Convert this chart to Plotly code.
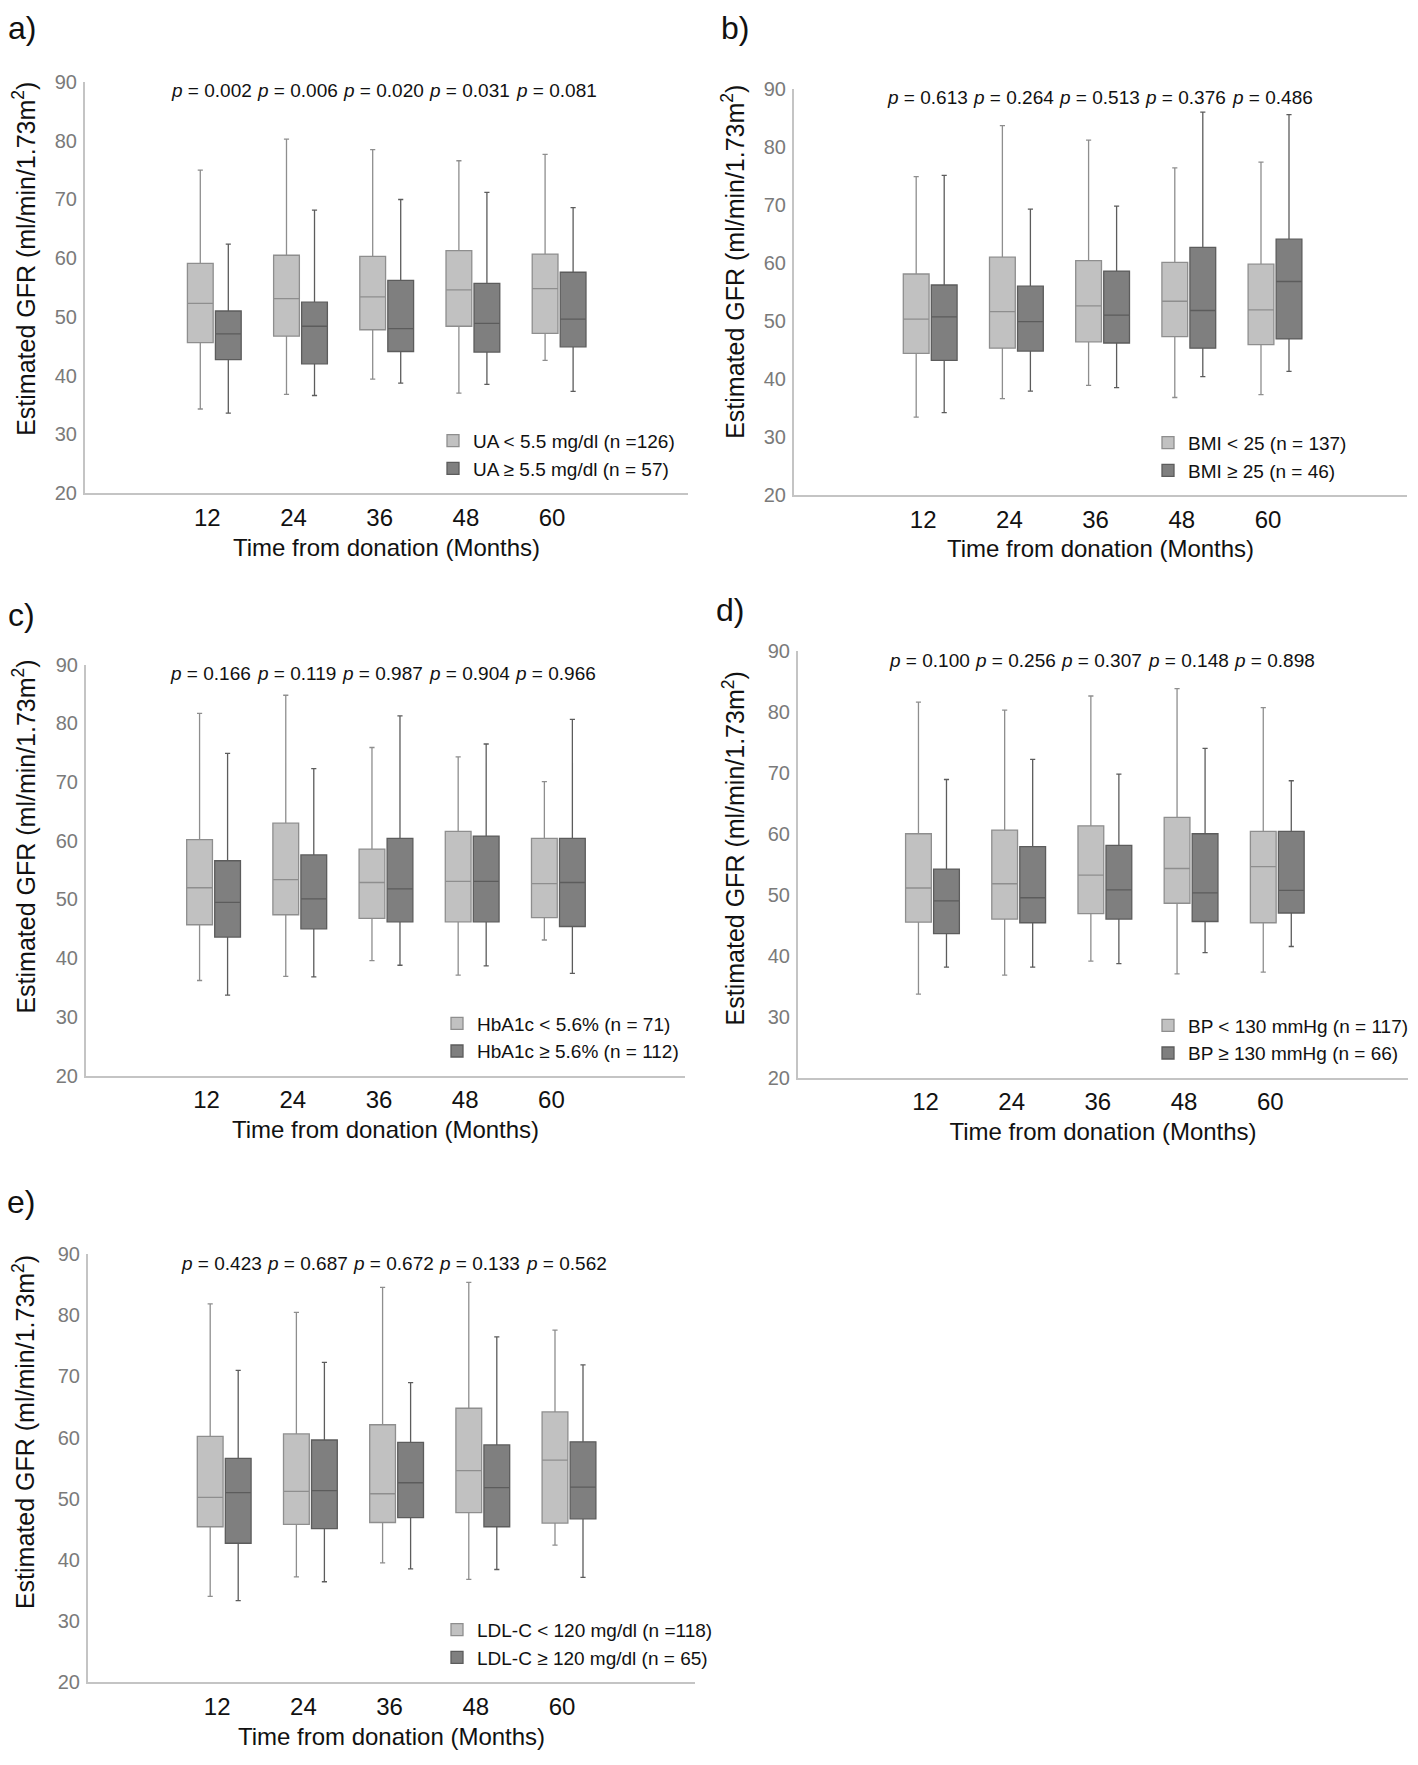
import plotly.graph_objects as go

# ---------------- data ----------------
months = ["12", "24", "36", "48", "60"]

# each tuple: (lower whisker, Q1, median, Q3, upper whisker) for months 12..60
ua_low = [(34.3, 45.6, 52.3, 59.1, 75.0), (36.8, 46.7, 53.1, 60.5, 80.3), (39.4, 47.8, 53.4, 60.3, 78.5),
          (37.0, 48.4, 54.6, 61.3, 76.6), (42.6, 47.2, 54.8, 60.7, 77.7)]
ua_high = [(33.6, 42.7, 47.1, 51.0, 62.4), (36.6, 42.0, 48.4, 52.5, 68.2), (38.7, 44.1, 48.0, 56.2, 70.0),
           (38.5, 44.0, 48.9, 55.7, 71.2), (37.3, 44.9, 49.6, 57.6, 68.6)]
bmi_low = [(33.4, 44.4, 50.3, 58.1, 74.9), (36.6, 45.3, 51.6, 61.0, 83.7), (38.9, 46.4, 52.6, 60.4, 81.2),
           (36.8, 47.3, 53.4, 60.1, 76.4), (37.3, 45.9, 51.9, 59.8, 77.4)]
bmi_high = [(34.2, 43.2, 50.7, 56.2, 75.1), (37.9, 44.8, 49.9, 56.0, 69.3), (38.5, 46.2, 51.0, 58.6, 69.8),
            (40.4, 45.3, 51.8, 62.7, 86.0), (41.3, 46.9, 56.8, 64.1, 85.6)]
hba_low = [(36.2, 45.7, 52.0, 60.2, 81.7), (36.9, 47.4, 53.4, 63.0, 84.8), (39.6, 46.8, 52.9, 58.6, 75.9),
           (37.1, 46.2, 53.1, 61.6, 74.3), (43.1, 46.9, 52.7, 60.4, 70.1)]
hba_high = [(33.7, 43.6, 49.5, 56.6, 74.9), (36.8, 45.0, 50.1, 57.6, 72.3), (38.8, 46.2, 51.8, 60.4, 81.3),
            (38.7, 46.2, 53.1, 60.8, 76.5), (37.4, 45.4, 52.9, 60.4, 80.7)]
bp_low = [(33.7, 45.5, 51.1, 60.0, 81.6), (36.8, 46.0, 51.8, 60.6, 80.3), (39.1, 46.9, 53.2, 61.3, 82.6),
          (37.0, 48.6, 54.3, 62.7, 83.8), (37.3, 45.4, 54.6, 60.4, 80.7)]
bp_high = [(38.1, 43.6, 49.0, 54.2, 68.9), (38.1, 45.4, 49.5, 57.9, 72.2), (38.7, 46.0, 50.8, 58.1, 69.8),
           (40.5, 45.6, 50.3, 60.0, 74.0), (41.5, 47.0, 50.7, 60.4, 68.7)]
ldl_low = [(34.0, 45.4, 50.2, 60.2, 81.9), (37.2, 45.8, 51.2, 60.6, 80.5), (39.5, 46.1, 50.8, 62.1, 84.6),
           (36.8, 47.7, 54.6, 64.8, 85.4), (42.4, 46.0, 56.3, 64.2, 77.6)]
ldl_high = [(33.3, 42.7, 51.0, 56.6, 71.0), (36.4, 45.1, 51.3, 59.6, 72.3), (38.5, 46.9, 52.6, 59.2, 69.0),
            (38.4, 45.4, 51.8, 58.8, 76.5), (37.1, 46.7, 51.9, 59.3, 71.9)]

p_ua = ["0.002", "0.006", "0.020", "0.031", "0.081"]
p_bmi = ["0.613", "0.264", "0.513", "0.376", "0.486"]
p_hba = ["0.166", "0.119", "0.987", "0.904", "0.966"]
p_bp = ["0.100", "0.256", "0.307", "0.148", "0.898"]
p_ldl = ["0.423", "0.687", "0.672", "0.133", "0.562"]

names_ua = ["UA &lt; 5.5 mg/dl (n =126)", "UA ≥ 5.5 mg/dl (n = 57)"]
names_bmi = ["BMI &lt; 25 (n = 137)", "BMI ≥ 25 (n = 46)"]
names_hba = ["HbA1c &lt; 5.6% (n = 71)", "HbA1c ≥ 5.6% (n = 112)"]
names_bp = ["BP &lt; 130 mmHg (n = 117)", "BP ≥ 130 mmHg (n = 66)"]
names_ldl = ["LDL-C &lt; 120 mg/dl (n =118)", "LDL-C ≥ 120 mg/dl (n = 65)"]

panel_letters = ["a)", "b)", "c)", "d)", "e)"]
y_title = "Estimated GFR (ml/min/1.73m<sup>2</sup>)"
x_title = "Time from donation (Months)"

# ---------------- layout geometry (page pixels, 1418 x 1765) ----------------
W, H = 1418, 1765


def px(xp):
    return xp / W


def py(yp):
    return 1 - yp / H


# x0, x1, y(20), y(90), x-range start, panel-label pos, legend swatch centre x, y-title centre
geom = [
    (85, 688, 488, 72, -1.50, (22, 17), 452, (24, 251)),
    (794, 1407, 490, 79, -1.58, (735, 17), 1167, (733, 254)),
    (86, 685, 1078, 662, -1.48, (21, 612), 456, (24, 836)),
    (798, 1408, 1080, 648, -1.56, (730, 607), 1167, (734, 848)),
    (88, 695, 1692, 1259, -1.58, (21, 1206), 456, (24, 1439)),
]
spacing = 86.2

panels = [
    (ua_low, ua_high, p_ua, names_ua),
    (bmi_low, bmi_high, p_bmi, names_bmi),
    (hba_low, hba_high, p_hba, names_hba),
    (bp_low, bp_high, p_bp, names_bp),
    (ldl_low, ldl_high, p_ldl, names_ldl),
]

FONT = "Liberation Sans, Arial, Helvetica, sans-serif"
light_fill, light_line = "#c1c1c1", "#8e8e8e"
dark_fill, dark_line = "#7f7f7f", "#5c5c5c"

fig = go.Figure()
annotations = []
layout = {}

for i, ((low, high, pvals, names), g) in enumerate(zip(panels, geom)):
    n = i + 1
    sfx = "" if n == 1 else str(n)
    x0, x1, y20, y90, xs, lab, swx, ytc = g
    xa, ya = "x" + sfx, "y" + sfx
    leg = "legend" + sfx
    for grp, data, fill, lc, nm in (("lo", low, light_fill, light_line, names[0]),
                                     ("hi", high, dark_fill, dark_line, names[1])):
        fig.add_trace(go.Box(
            x=months,
            lowerfence=[d[0] for d in data],
            q1=[d[1] for d in data],
            median=[d[2] for d in data],
            q3=[d[3] for d in data],
            upperfence=[d[4] for d in data],
            name=nm, fillcolor=fill, line=dict(color=lc, width=1.3),
            whiskerwidth=0.2, boxpoints=False,
            alignmentgroup="panel" + str(n), offsetgroup=grp,
            xaxis=xa, yaxis=ya, legend=leg, hoverinfo="skip",
        ))
    layout["xaxis" + sfx] = dict(
        domain=[px(x0), px(x1)], anchor=ya, type="category",
        range=[xs, xs + (x1 - x0) / spacing],
        showline=True, linecolor="#c4c4c4", linewidth=2, showgrid=False, zeroline=False,
        ticks="", tickfont=dict(size=24, color="#111111", family=FONT),
        ticklabelshift=-7, ticklabelstandoff=2,
        title=dict(text=x_title, font=dict(size=24, color="#111111", family=FONT), standoff=9),
    )
    layout["yaxis" + sfx] = dict(
        domain=[py(y20), py(y90)], anchor=xa, range=[20, 90],
        tickvals=[20, 30, 40, 50, 60, 70, 80, 90],
        showline=True, linecolor="#c4c4c4", linewidth=2, showgrid=False, zeroline=False,
        ticks="", tickfont=dict(size=20, color="#7a7a7a", family=FONT),
        ticklabelstandoff=2,
    )
    # y-axis title (rotated text, placed off-centre as in the reference)
    annotations.append(dict(
        x=px(ytc[0]), y=py(ytc[1]), xref="paper", yref="paper", text=y_title, textangle=-90,
        showarrow=False, xanchor="center", yanchor="middle",
        font=dict(size=25, color="#111111", family=FONT),
    ))
    first_center = y20 - 51
    layout[leg] = dict(
        x=px(swx - 19), y=py(first_center - 21), xanchor="left", yanchor="top",
        font=dict(size=19, color="#111111", family=FONT), bgcolor="rgba(0,0,0,0)",
        tracegroupgap=0, itemclick=False, itemdoubleclick=False,
    )
    for k, p in enumerate(pvals):
        annotations.append(dict(
            x=k, y=88.5, xref=xa, yref=ya, text="<i>p</i> = " + p, showarrow=False,
            xshift=-3, font=dict(size=19, color="#111111", family=FONT),
            xanchor="center", yanchor="middle",
        ))
    annotations.append(dict(
        x=px(lab[0]), y=py(lab[1]), xref="paper", yref="paper", text=panel_letters[i],
        showarrow=False, xanchor="center", yanchor="middle",
        font=dict(size=32, color="#111111", family=FONT),
    ))

fig.update_layout(
    width=W, height=H, margin=dict(l=0, r=0, t=0, b=0),
    paper_bgcolor="white", plot_bgcolor="white",
    boxmode="group", boxgap=0.35, boxgroupgap=0.08,
    showlegend=True, annotations=annotations,
    font=dict(family=FONT),
    **layout,
)

# remove the default page margin so the figure sits exactly in the 1418 x 1765 window
fig.write_html(
    "out.html",
    config={"displayModeBar": False},
    post_script="document.body.style.margin='0';document.body.style.overflow='hidden';",
)
